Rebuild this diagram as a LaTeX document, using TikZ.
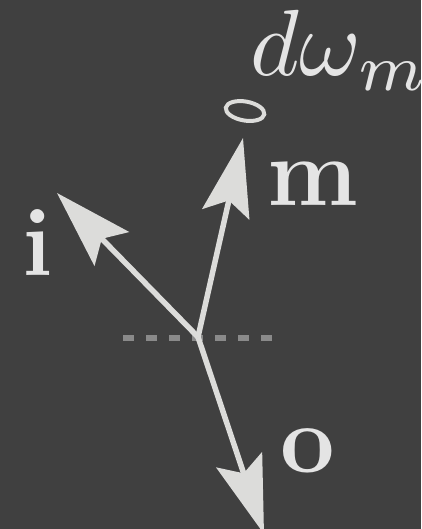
\documentclass[tikz,border=0pt]{standalone}
\usetikzlibrary{arrows.meta}
\definecolor{bgc}{HTML}{404040}
\definecolor{vecc}{HTML}{DCDCDA}
\definecolor{txtc}{HTML}{E4E4E4}
\definecolor{dashc}{HTML}{8A8A8A}
\tikzset{
  vec/.style={draw=vecc, line width=5.5pt, -{Stealth[length=78pt, width=48pt, inset=14pt, fill=vecc]}},
  lbl/.style={text=txtc, inner sep=0pt, anchor=base west, font=\fontsize{97}{100}\selectfont\bfseries},
  horizon/.style={draw=dashc, line width=6.5pt, dash pattern=on 11pt off 12pt},
}
\begin{document}
\begin{tikzpicture}[x=1pt, y=-1pt]
  \fill[bgc] (0,0) rectangle (421,529);
  \useasboundingbox (0,0) rectangle (421,529);
  \coordinate (O) at (198,337);
  \coordinate (I) at (57,193);
  \coordinate (M) at (243,138);
  \coordinate (Ob) at (264,534);
  \coordinate (hl) at (123,338);
  \coordinate (hr) at (272,338);
  \coordinate (E) at (245,111);
  \draw[horizon] (hl) -- (hr);
  \draw[vec] (O) -- (I);
  \draw[vec] (O) -- (M);
  \draw[vec] (O) -- (Ob);
  \draw[draw=vecc, line width=4pt, rotate around={-10:(E)}] (E) ellipse [x radius=19.5, y radius=9.5];
  \node[text=txtc, inner sep=0pt, anchor=base west, scale=9.4] (dw) at (249,76) {$d\omega_m$};
  \node[lbl] (lm) at (267,205) {m};
  \node[lbl] (li) at (22,275) {i};
  \node[lbl] (lo) at (280,472) {o};
\end{tikzpicture}
\end{document}
